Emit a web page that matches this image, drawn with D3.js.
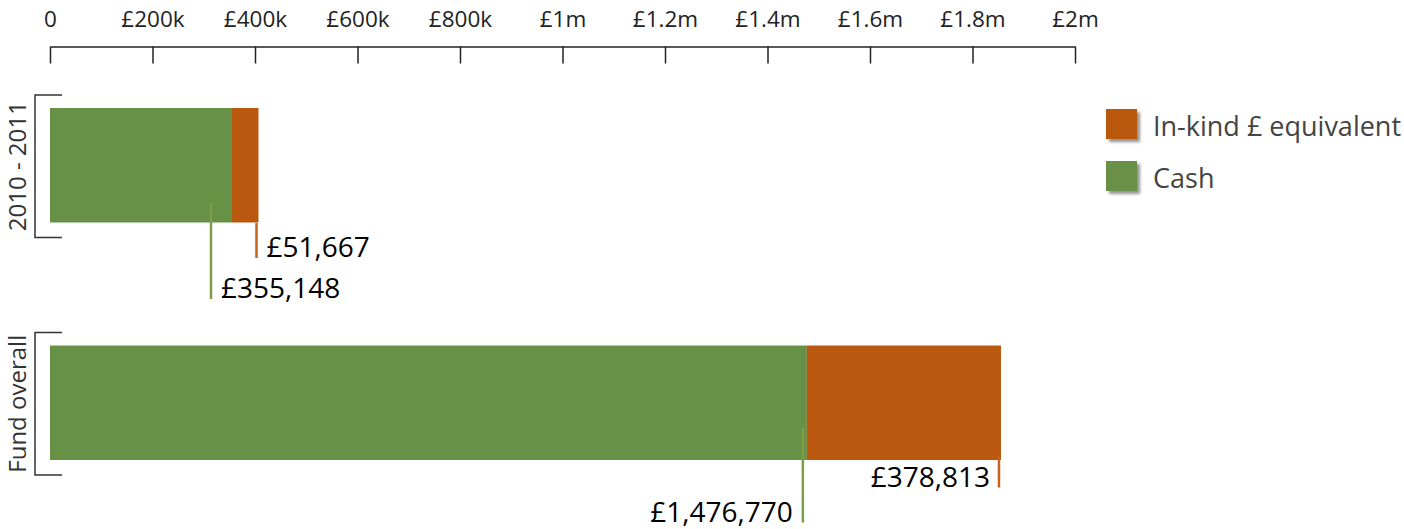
<!DOCTYPE html>
<html><head><meta charset="utf-8">
<script src="https://cdn.jsdelivr.net/npm/d3@7"></script>
<style>
html,body{margin:0;padding:0;background:#fff;}
svg{display:block;font-family:"Open Sans",sans-serif;}
</style></head>
<body><svg id="c" width="1404" height="529"></svg>
<script>
const categories = ["2010 - 2011", "Fund overall"];
const cashValues = [355148, 1476770];
const inKindValues = [51667, 378813];
const seriesNames = ["In-kind £ equivalent", "Cash"];
const tickValues = [0, 200000, 400000, 600000, 800000, 1000000, 1200000, 1400000, 1600000, 1800000, 2000000];
const tickLabels = ["0", "£200k", "£400k", "£600k", "£800k", "£1m", "£1.2m", "£1.4m", "£1.6m", "£1.8m", "£2m"];

const GREEN = "#679147", ORANGE = "#ba580f";
const GREEN_LINE = "#7c9e47", ORANGE_LINE = "#c4631c";
const fmt = v => "£" + d3.format(",")(v);

const svg = d3.select("#c");
const x = d3.scaleLinear().domain([0, 2000000]).range([50, 1075]);
const y = d3.scaleBand().domain(categories).range([95, 475]).paddingInner(0.4);

// top axis
const axisG = svg.append("g").attr("transform", "translate(0,46.5)");
axisG.call(d3.axisTop(x).tickValues(tickValues).tickSize(0).tickSizeOuter(0).tickFormat((d, i) => tickLabels[i]));
axisG.select(".domain").attr("stroke", "#222").attr("stroke-width", 1.5);
axisG.selectAll(".tick text").attr("font-size", 22.5).attr("fill", "#222")
  .attr("font-family", "'Open Sans',sans-serif").attr("y", -20);
axisG.selectAll(".tick").append("line").attr("y1", 0).attr("y2", 17).attr("stroke", "#222").attr("stroke-width", 1.5);

// rows
const rows = categories.map((c, i) => ({cat: c, cash: cashValues[i], inKind: inKindValues[i]}));
const barTop = 13, barBottom = 15;
const layout = [
  {cashOff: -21, cashTop: 108, cashBot: 204, cashAnchor: "start", inkTop: 128, inkBot: 163, inkAnchor: "start"},
  {cashOff: -4, cashTop: 95, cashBot: 190, cashAnchor: "end", inkTop: 124, inkBot: 155, inkAnchor: "end"}
];

rows.forEach((r, i) => {
  const b0 = y(r.cat), bw = y.bandwidth();
  const top = b0 + barTop, h = bw - barTop - barBottom;
  const g = svg.append("g");
  // bracket
  g.append("path").attr("d", `M62,${b0}H35V${b0 + bw}H62`).attr("fill", "none").attr("stroke", "#333").attr("stroke-width", 1.5);
  // label
  g.append("text").attr("transform", `translate(26,${b0 + bw / 2}) rotate(-90)`).attr("text-anchor", "middle")
    .attr("font-size", 24).attr("fill", "#333").text(r.cat);
  // bars
  g.append("rect").attr("x", x(0)).attr("y", top).attr("width", x(r.cash) - x(0)).attr("height", h).attr("fill", GREEN);
  g.append("rect").attr("x", x(r.cash)).attr("y", top).attr("width", x(r.cash + r.inKind) - x(r.cash)).attr("height", h).attr("fill", ORANGE);
  const L = layout[i];
  // cash callout
  const cx = x(r.cash) + L.cashOff;
  g.append("line").attr("x1", cx).attr("x2", cx).attr("y1", b0 + L.cashTop).attr("y2", b0 + L.cashBot)
    .attr("stroke", GREEN_LINE).attr("stroke-width", 2.5);
  g.append("text").attr("x", L.cashAnchor === "start" ? cx + 10 : cx - 10).attr("y", b0 + L.cashBot - 1)
    .attr("text-anchor", L.cashAnchor).attr("font-size", 28).attr("font-weight", 500).attr("fill", "#000").text(fmt(r.cash));
  // in-kind callout
  const ox = x(r.cash + r.inKind) - 2;
  g.append("line").attr("x1", ox).attr("x2", ox).attr("y1", b0 + L.inkTop).attr("y2", b0 + L.inkBot)
    .attr("stroke", ORANGE_LINE).attr("stroke-width", 2.5);
  g.append("text").attr("x", L.inkAnchor === "start" ? ox + 10 : ox - 9).attr("y", b0 + L.inkBot - 1)
    .attr("text-anchor", L.inkAnchor).attr("font-size", 28).attr("font-weight", 500).attr("fill", "#000").text(fmt(r.inKind));
});

// legend
const defs = svg.append("defs");
const f = defs.append("filter").attr("id", "sh").attr("x", "-30%").attr("y", "-30%").attr("width", "170%").attr("height", "170%");
f.append("feDropShadow").attr("dx", 3).attr("dy", 3).attr("stdDeviation", 1.5).attr("flood-color", "#777").attr("flood-opacity", 0.8);
const legColors = [ORANGE, GREEN];
const leg = svg.append("g").attr("transform", "translate(1106,109)");
seriesNames.forEach((n, i) => {
  const gy = i * 52;
  leg.append("rect").attr("x", 0).attr("y", gy).attr("width", 31).attr("height", 30).attr("fill", legColors[i]).attr("filter", "url(#sh)");
  leg.append("text").attr("x", 47).attr("y", gy + 18).attr("dy", "0.35em").attr("font-size", 27).attr("fill", "#444").text(n);
});
</script></body></html>
